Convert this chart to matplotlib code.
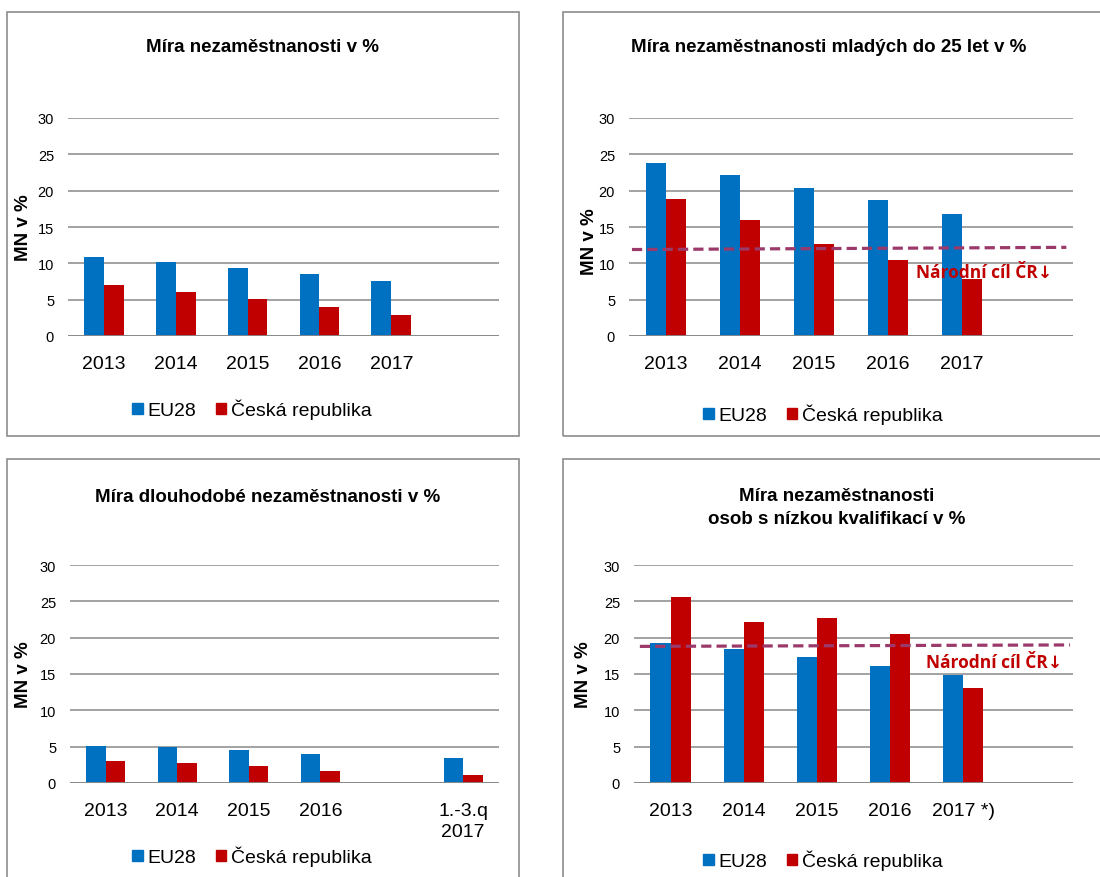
import numpy as np
import matplotlib.pyplot as plt
from matplotlib import font_manager
from matplotlib.patches import Rectangle, Patch

# --- data ---
roky = ['2013', '2014', '2015', '2016', '2017', '']
eu_mn = [10.9, 10.2, 9.4, 8.6, 7.6, np.nan]
cr_mn = [7.0, 6.1, 5.1, 4.0, 2.9, np.nan]

eu_mladi = [23.8, 22.2, 20.3, 18.7, 16.8, np.nan]
cr_mladi = [18.9, 15.9, 12.6, 10.5, 7.9, np.nan]
cil_mladi = [11.9, 12.2]

roky_dlouh = ['2013', '2014', '2015', '2016', '', '1.-3.q\n2017']
eu_dlouh = [5.1, 5.0, 4.5, 4.0, np.nan, 3.4]
cr_dlouh = [3.0, 2.7, 2.4, 1.7, np.nan, 1.1]

roky_kval = ['2013', '2014', '2015', '2016', '2017 *)', '']
eu_kval = [19.2, 18.5, 17.4, 16.1, 14.8, np.nan]
cr_kval = [25.6, 22.1, 22.7, 20.5, 13.1, np.nan]
cil_kval = [18.8, 19.0]

BLUE = '#0070C0'
RED = '#C00000'
GRID = '#898989'
TARGET = '#9B3A6A'

W, H = 1100, 878
fig = plt.figure(figsize=(W / 100, H / 100), dpi=100)

def mame_font(name):
    try:
        font_manager.findfont(name, fallback_to_default=False)
        return True
    except Exception:
        return False

if mame_font('Liberation Sans Narrow'):
    TITLE_FONT = dict(family='Liberation Sans Narrow', size=16)
else:
    TITLE_FONT = dict(family='Liberation Sans', size=13.5)
BASE = ['Liberation Sans', 'DejaVu Sans']
LABEL_FONT = ['Open Sans', 'DejaVu Sans']


def px_axes(x0, y0, x1, y1):
    return fig.add_axes([x0 / W, 1 - y1 / H, (x1 - x0) / W, (y1 - y0) / H])


def ramecek(x0, y0, x1, y1):
    fig.add_artist(Rectangle((x0 / W, 1 - y1 / H), (x1 - x0) / W, (y1 - y0) / H,
                             transform=fig.transFigure, fill=False,
                             edgecolor='#8c8c8c', lw=1.2))


def graf(box, labels, eu, cr, title, title_xy, ylab_xy, leg_xy):
    ax = px_axes(*box)
    x = np.arange(len(labels))
    w = 0.275
    ax.bar(x - w / 2, eu, w, color=BLUE, zorder=3)
    ax.bar(x + w / 2, cr, w, color=RED, zorder=3)
    ax.set_xlim(-0.5, len(labels) - 0.5)
    ax.set_ylim(0, 30)
    ax.set_yticks(range(0, 31, 5))
    ax.set_xticks(x)
    ax.set_xticklabels(labels, fontsize=14, family=BASE, linespacing=1.3)
    for t in ax.get_yticklabels():
        t.set_fontsize(10.5)
        t.set_family(BASE)
    ax.tick_params(axis='both', length=0)
    ax.tick_params(axis='x', pad=14)
    ax.tick_params(axis='y', pad=10)
    ax.grid(axis='y', color=GRID, lw=1.1, zorder=0)
    for s in ax.spines.values():
        s.set_visible(False)
    ax.axhline(0, color=GRID, lw=1.3, zorder=4)
    ax.patch.set_alpha(0)

    fig.text(title_xy[0] / W, 1 - title_xy[1] / H, title, ha='center', va='center',
             fontweight='bold', linespacing=1.5, **TITLE_FONT)
    fig.text(ylab_xy[0] / W, 1 - ylab_xy[1] / H, 'MN v %', rotation=90,
             ha='center', va='center', fontsize=13.5, fontweight='bold', family=BASE)
    handles = [Patch(color=BLUE, label='EU28'), Patch(color=RED, label='Česká republika')]
    fig.legend(handles=handles, loc='center', ncol=2, frameon=False,
               bbox_to_anchor=(leg_xy[0] / W, 1 - leg_xy[1] / H),
               prop=dict(family=BASE, size=14), handlelength=0.55, handleheight=0.55,
               handletextpad=0.25, columnspacing=1.0, borderaxespad=0)
    return ax


def cil(ax, hodnoty, x_od, x_do, text_xy):
    ax.plot([x_od, x_do], hodnoty, color=TARGET, lw=2.3,
            linestyle=(0, (3.2, 1.6)), zorder=5)
    ax.text(text_xy[0], text_xy[1], 'Národní cíl ČR↓', color=RED, fontsize=12.5,
            fontweight='bold', family=LABEL_FONT, ha='left', va='center', zorder=6)


ramecek(7, 13, 519, 437)
ramecek(563, 13, 1110, 437)
ramecek(7, 460, 519, 890)
ramecek(563, 460, 1110, 890)

graf((68, 119, 499, 337), roky, eu_mn, cr_mn, 'Míra nezaměstnanosti v %',
     (263, 48), (24, 228), (252, 410))

ax2 = graf((629, 119, 1073, 337), roky, eu_mladi, cr_mladi,
           'Míra nezaměstnanosti mladých do 25 let v %', (829, 48), (589, 242), (823, 415))
cil(ax2, cil_mladi, -0.46, 5.41, (3.38, 8.85))

graf((70, 566, 499, 784), roky_dlouh, eu_dlouh, cr_dlouh,
     'Míra dlouhodobé nezaměstnanosti v %', (268, 498), (24, 675), (252, 857))

ax4 = graf((634, 566, 1073, 784), roky_kval, eu_kval, cr_kval,
           'Míra nezaměstnanosti\nosob s nízkou kvalifikací v %', (837, 508), (584, 675), (823, 861))
cil(ax4, cil_kval, -0.42, 5.46, (3.49, 16.65))

fig.savefig('out.png', dpi=100)
